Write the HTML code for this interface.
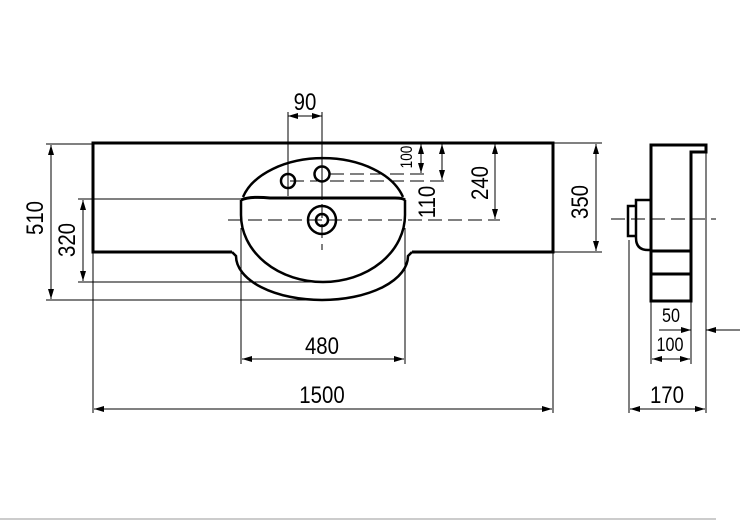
<!DOCTYPE html>
<html><head><style>
html,body{margin:0;padding:0;background:#fff;}
svg{display:block;}
text{font-family:"Liberation Sans",sans-serif;fill:#000;}
</style></head><body>
<svg width="746" height="521" viewBox="0 0 746 521" xmlns="http://www.w3.org/2000/svg">
<defs>
<marker id="a" viewBox="0 0 10 6" refX="10" refY="3" markerWidth="10" markerHeight="6" orient="auto-start-reverse" markerUnits="userSpaceOnUse"><path d="M0,0 L10,3 L0,6 z" fill="#000"/></marker>
</defs>
<g fill="none" stroke="#000">
<path d="M232,252 L93,252 L93,143 L553,143 L553,252 L412,252" stroke-width="3"/>
<path d="M232,252 L236,256 A86,44 0 0 0 408,256 L412,252" stroke-width="2.5"/>
<path d="M243,197 A83,53 0 0 1 403,197" stroke-width="2.5"/>
<path d="M241,200 Q250,196 270,198 L395,198 Q403,198 405,200" stroke-width="3"/>
<path d="M241,200 L241,215 A82,67 0 0 0 405,215 L405,200" stroke-width="2.5"/>
<circle cx="288" cy="181" r="7" stroke-width="2.5"/>
<circle cx="322" cy="174" r="7.5" stroke-width="2.5"/>
<circle cx="322" cy="220" r="14" stroke-width="2.5"/>
<circle cx="322" cy="220" r="6" stroke-width="2.5"/>
<path d="M228,220 L500,220" stroke-width="1" stroke-dasharray="14,6"/>
<path d="M322,204 L322,250" stroke-width="1" stroke-dasharray="14,6"/>
<path d="M330,174 L425,174" stroke-width="1" stroke-dasharray="14,6"/>
<path d="M290,181 L447,181" stroke-width="1" stroke-dasharray="14,6"/>
<g stroke-width="1">
<path d="M288,112 L288,196 M322,112 L322,200"/>
<path d="M553,143 L602,143 M553,252 L602,252"/>
<path d="M46,144 L93,144 M46,300 L322,300"/>
<path d="M78,199 L241,199 M78,282 L322,282"/>
<path d="M93,252 L93,413 M553,252 L553,413"/>
<path d="M241,228 L241,364 M405,228 L405,364"/>
</g>
<g stroke-width="1" marker-start="url(#a)" marker-end="url(#a)">
<path d="M288,116 L322,116"/>
<path d="M421,144 L421,173"/>
<path d="M442,144 L442,180"/>
<path d="M495,144 L495,219"/>
<path d="M596,144 L596,251"/>
<path d="M51,145 L51,299"/>
<path d="M83,200 L83,281"/>
<path d="M242,359 L404,359"/>
<path d="M94,409 L552,409"/>
<path d="M652,359 L690,359"/>
<path d="M630,409 L705,409"/>
</g>
<path d="M651,301 L651,145 L706,145 L706,152 L691,152 L691,301 Z" stroke-width="3"/>
<path d="M651,251 L691,251 M651,274 L691,274" stroke-width="3"/>
<path d="M651,200 L636,200 L636,238 Q636,250 648,250 L651,250" stroke-width="2.5"/>
<path d="M636,206 L628,206 L628,236 L636,236" stroke-width="2.5"/>
<path d="M611,219 L716,219" stroke-width="1" stroke-dasharray="14,6"/>
<g stroke-width="1">
<path d="M629,240 L629,413 M706,152 L706,413"/>
<path d="M651,301 L651,364 M691,301 L691,364"/>
<path d="M659,330 L691,330 M706,330 L740,330"/>
</g>
<path d="M681,330 L691,330" stroke-width="1" marker-end="url(#a)"/>
<path d="M740,330 L706,330" stroke-width="1" marker-end="url(#a)"/>
</g>
<path d="M0,519 L716,519" stroke="#bbb" stroke-width="1.5"/>
<g font-size="24" text-anchor="middle">
<text x="305" y="110" transform="translate(305 0) scale(0.85 1) translate(-305 0)">90</text>
<text x="322" y="354" transform="translate(322 0) scale(0.85 1) translate(-322 0)">480</text>
<text x="322" y="403" transform="translate(322 0) scale(0.85 1) translate(-322 0)">1500</text>
<text x="667" y="403" transform="translate(667 0) scale(0.85 1) translate(-667 0)">170</text>
<text transform="translate(488 183) rotate(-90) scale(0.85 1)" y="0">240</text>
<text transform="translate(588 202) rotate(-90) scale(0.85 1)" y="0">350</text>
<text transform="translate(43 218) rotate(-90) scale(0.85 1)" y="0">510</text>
<text transform="translate(75 240) rotate(-90) scale(0.85 1)" y="0">320</text>
<text transform="translate(435 202) rotate(-90) scale(0.85 1)" y="0">110</text>
</g>
<g font-size="17" text-anchor="middle">
<text transform="translate(412 157) rotate(-90) scale(0.8 1)" y="0">100</text>
<text x="671" y="322" transform="translate(671 0) scale(0.85 1) translate(-671 0)" font-size="19">50</text>
<text x="670" y="351" transform="translate(670 0) scale(0.85 1) translate(-670 0)" font-size="19">100</text>
</g>
</svg>
</body></html>
